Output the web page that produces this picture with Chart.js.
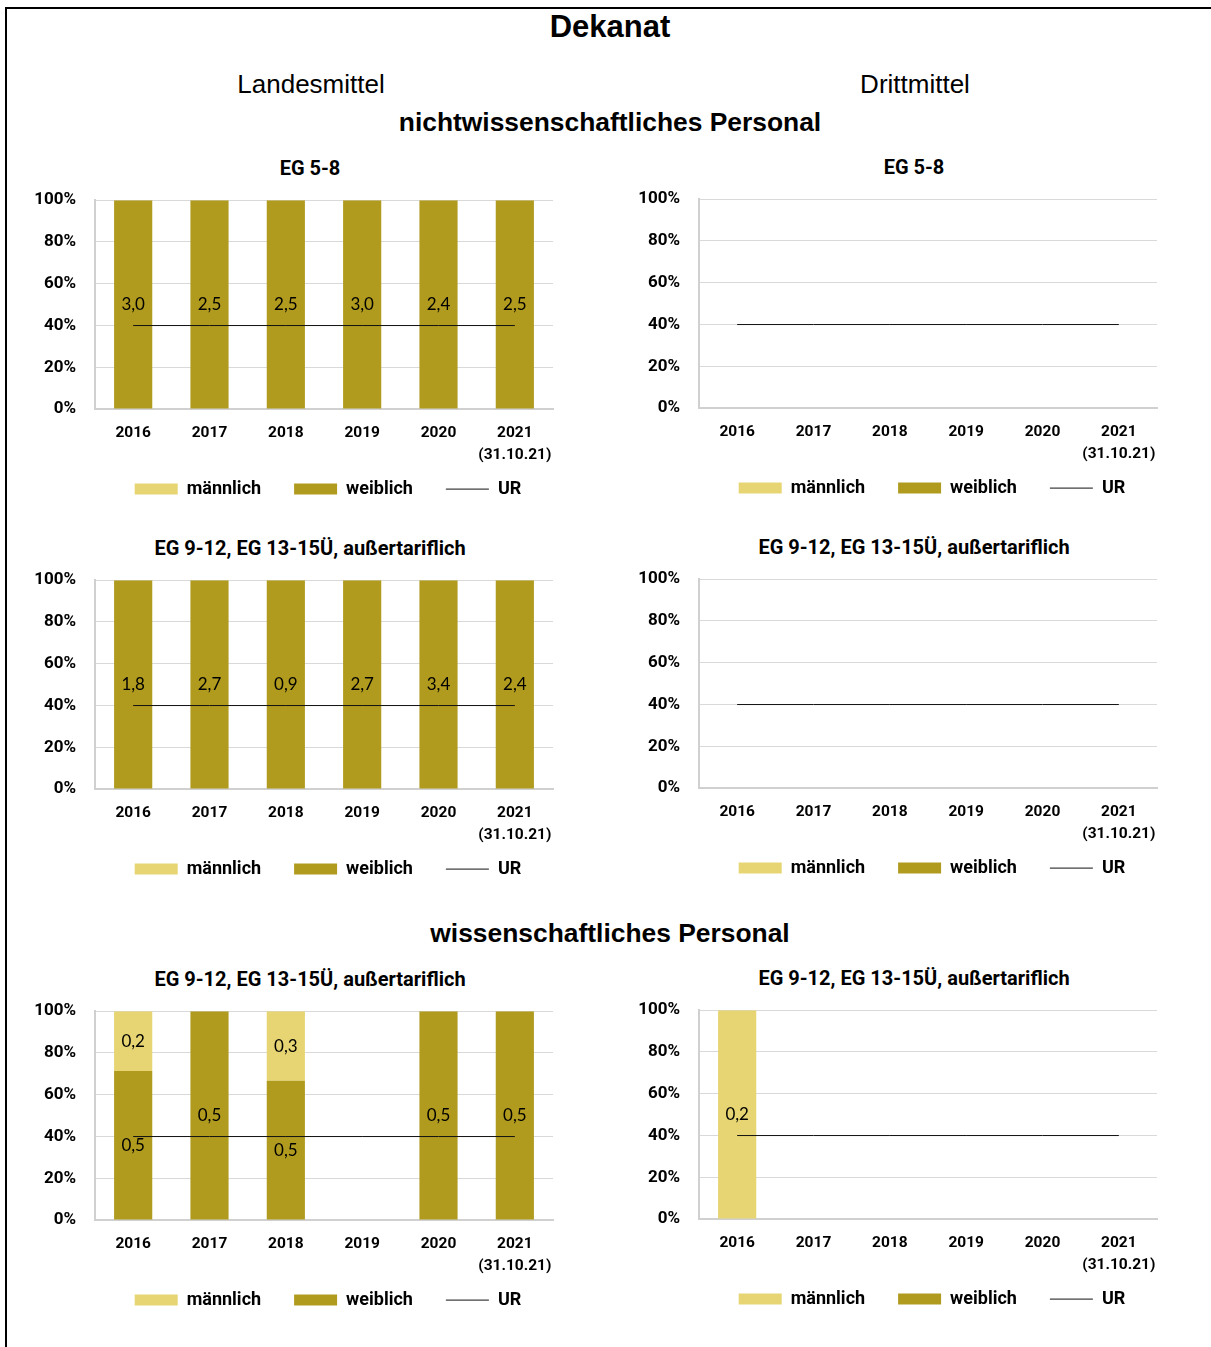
<!DOCTYPE html>
<html lang="de">
<head>
<meta charset="utf-8">
<title>Dekanat</title>
<script src="https://cdn.jsdelivr.net/npm/chart.js@4.4.1/dist/chart.umd.min.js"></script>
<style>
  body { margin: 0; background: #fff; width: 1211px; height: 1347px; position: relative; overflow: hidden;
         font-family: "Liberation Sans", Arial, sans-serif; color: #000; }
  .frame { position: absolute; left: 5px; top: 7px; width: 1300px; height: 1400px;
           border-top: 2px solid #000; border-left: 2px solid #000; }
  .head { position: absolute; transform: translate(-50%, -50%); white-space: nowrap; }
  .sub { position: absolute; transform: translate(-50%, -50%); white-space: nowrap;
         font-family: Roboto, sans-serif; font-weight: bold; font-size: 20px; }
  .panel { position: absolute; width: 580px; height: 370px; }
</style>
</head>
<body>
<div class="frame"></div>
<div class="head" style="left:610px;top:27px;font-size:31px;font-weight:bold">Dekanat</div>
<div class="head" style="left:311px;top:84px;font-size:26px">Landesmittel</div>
<div class="head" style="left:915px;top:84px;font-size:26px">Drittmittel</div>
<div class="head" style="left:610px;top:122px;font-size:26.4px;font-weight:bold">nichtwissenschaftliches Personal</div>
<div class="head" style="left:610px;top:933px;font-size:26.4px;font-weight:bold">wissenschaftliches Personal</div>

<div class="sub" style="left:310px;top:168px">EG 5-8</div>
<div class="sub" style="left:914px;top:167px">EG 5-8</div>
<div class="sub" style="left:310px;top:548px">EG 9-12, EG 13-15Ü, außertariflich</div>
<div class="sub" style="left:914px;top:547px">EG 9-12, EG 13-15Ü, außertariflich</div>
<div class="sub" style="left:310px;top:979px">EG 9-12, EG 13-15Ü, außertariflich</div>
<div class="sub" style="left:914px;top:978px">EG 9-12, EG 13-15Ü, außertariflich</div>

<div class="panel" style="left:20px;top:171px"><canvas id="lmNw58" width="580" height="370"></canvas></div>
<div class="panel" style="left:624px;top:170px"><canvas id="dmNw58" width="580" height="370"></canvas></div>
<div class="panel" style="left:20px;top:551px"><canvas id="lmNw912" width="580" height="370"></canvas></div>
<div class="panel" style="left:624px;top:550px"><canvas id="dmNw912" width="580" height="370"></canvas></div>
<div class="panel" style="left:20px;top:982px"><canvas id="lmW912" width="580" height="370"></canvas></div>
<div class="panel" style="left:624px;top:981px"><canvas id="dmW912" width="580" height="370"></canvas></div>

<script>
const years = ['2016', '2017', '2018', '2019', '2020', ['2021', '(31.10.21)']];
const yTicks = [0, 20, 40, 60, 80, 100];
const urQuote = [40, 40, 40, 40, 40, 40];

// Vollzeitäquivalente je Jahr: männlich / weiblich
const lmNw58M = [0, 0, 0, 0, 0, 0];
const lmNw58W = [3.0, 2.5, 2.5, 3.0, 2.4, 2.5];
const dmNw58M = [0, 0, 0, 0, 0, 0];
const dmNw58W = [0, 0, 0, 0, 0, 0];
const lmNw912M = [0, 0, 0, 0, 0, 0];
const lmNw912W = [1.8, 2.7, 0.9, 2.7, 3.4, 2.4];
const dmNw912M = [0, 0, 0, 0, 0, 0];
const dmNw912W = [0, 0, 0, 0, 0, 0];
const lmW912M = [0.2, 0, 0.27, 0, 0, 0];
const lmW912W = [0.5, 0.5, 0.54, 0, 0.5, 0.5];
const dmW912M = [0.2, 0, 0, 0, 0, 0];
const dmW912W = [0, 0, 0, 0, 0, 0];

const panels = [
  { id: 'lmNw58', m: lmNw58M, w: lmNw58W },
  { id: 'dmNw58', m: dmNw58M, w: dmNw58W },
  { id: 'lmNw912', m: lmNw912M, w: lmNw912W },
  { id: 'dmNw912', m: dmNw912M, w: dmNw912W },
  { id: 'lmW912', m: lmW912M, w: lmW912W },
  { id: 'dmW912', m: dmW912M, w: dmW912W }
];

const colMaennlich = '#E6D572';
const colWeiblich = '#B09B1F';
const colUR = '#111';
const font = 'Roboto';

// legend order: männlich, weiblich, UR (dataset indices 2, 1, 0)
const legendRank = [2, 1, 0];
const legendPad = 33;
const legendSize = 18;

function percent(part, a, b) {
  return part.map((v, i) => {
    const sum = a[i] + b[i];
    return sum > 0 ? v / sum * 100 : 0;
  });
}

// writes the FTE figure into the middle of each bar segment
const valueLabels = {
  id: 'valueLabels',
  afterDatasetsDraw(chart) {
    const ctx = chart.ctx;
    ctx.save();
    ctx.font = '17px Lato';
    ctx.fillStyle = '#000';
    ctx.textAlign = 'center';
    ctx.textBaseline = 'middle';
    chart.data.datasets.forEach((ds, i) => {
      if (!ds.amounts) return;
      chart.getDatasetMeta(i).data.forEach((bar, j) => {
        const v = ds.amounts[j];
        if (!v) return;
        ctx.fillText(v.toFixed(1).replace('.', ','), bar.x, (bar.y + bar.base) / 2);
      });
    });
    ctx.restore();
  }
};

// legend row sits 80px below the plot, nudged a little to the right
const legendLift = {
  id: 'legendLift',
  afterLayout(chart) {
    const lg = chart.legend;
    const top = chart.chartArea.bottom + 80 - legendPad - legendSize / 2;
    const dy = lg.top - top;
    lg.top -= dy;
    lg.bottom -= dy;
    lg.left += 4;
    lg.right += 4;
  }
};

function build(p) {
  new Chart(document.getElementById(p.id), {
    type: 'bar',
    data: {
      labels: years,
      datasets: [
        {
          type: 'line', label: 'UR', data: urQuote, stack: 'ur', order: -1,
          borderColor: colUR, backgroundColor: colUR, borderWidth: 1, pointRadius: 0
        },
        {
          label: 'weiblich', data: percent(p.w, p.m, p.w), amounts: p.w, stack: 'vz',
          backgroundColor: colWeiblich, borderWidth: 0
        },
        {
          label: 'männlich', data: percent(p.m, p.m, p.w), amounts: p.m, stack: 'vz',
          backgroundColor: colMaennlich, borderWidth: 0
        }
      ]
    },
    options: {
      responsive: false,
      animation: false,
      events: [],
      categoryPercentage: 1,
      barPercentage: 0.5,
      layout: { padding: { left: 0, right: 47, top: 0, bottom: 0.5 } },
      scales: {
        x: {
          stacked: true,
          grid: { display: false, drawTicks: false },
          border: { display: true, color: '#D0D0D0', width: 2 },
          ticks: {
            color: '#000', padding: 13.5, maxRotation: 0, autoSkip: false,
            font: { family: font, size: 15.5, weight: 'bold', lineHeight: 1.4 }
          }
        },
        y: {
          stacked: true,
          min: 0,
          max: 100,
          grid: { color: '#D9D9D9', drawTicks: false },
          border: { display: true, color: '#D0D0D0', width: 2 },
          ticks: {
            color: '#000', padding: 19,
            font: { family: font, size: 17, weight: 'bold' },
            callback: v => v + '%'
          },
          afterBuildTicks(scale) { scale.ticks = yTicks.map(v => ({ value: v })); },
          afterFit(scale) { scale.width = 75; }
        }
      },
      plugins: {
        tooltip: { enabled: false },
        title: { display: false },
        legend: {
          position: 'bottom',
          fullSize: false,
          labels: {
            usePointStyle: true,
            pointStyleWidth: 43,
            boxHeight: 11,
            padding: legendPad,
            color: '#000',
            font: { family: font, size: legendSize, weight: 'bold' },
            generateLabels(chart) {
              const items = Chart.defaults.plugins.legend.labels.generateLabels(chart);
              items.forEach(it => {
                const isLine = chart.data.datasets[it.datasetIndex].type === 'line';
                it.pointStyle = isLine ? 'line' : 'rect';
                it.lineWidth = isLine ? 1 : 0;
              });
              return items;
            },
            sort: (a, b) => legendRank[a.datasetIndex] - legendRank[b.datasetIndex]
          }
        }
      }
    },
    plugins: [valueLabels, legendLift]
  });
}

Promise.all([
  document.fonts.load('bold 16px Roboto'),
  document.fonts.load('17px Lato')
]).catch(() => {}).then(() => panels.forEach(build));
</script>
</body>
</html>
